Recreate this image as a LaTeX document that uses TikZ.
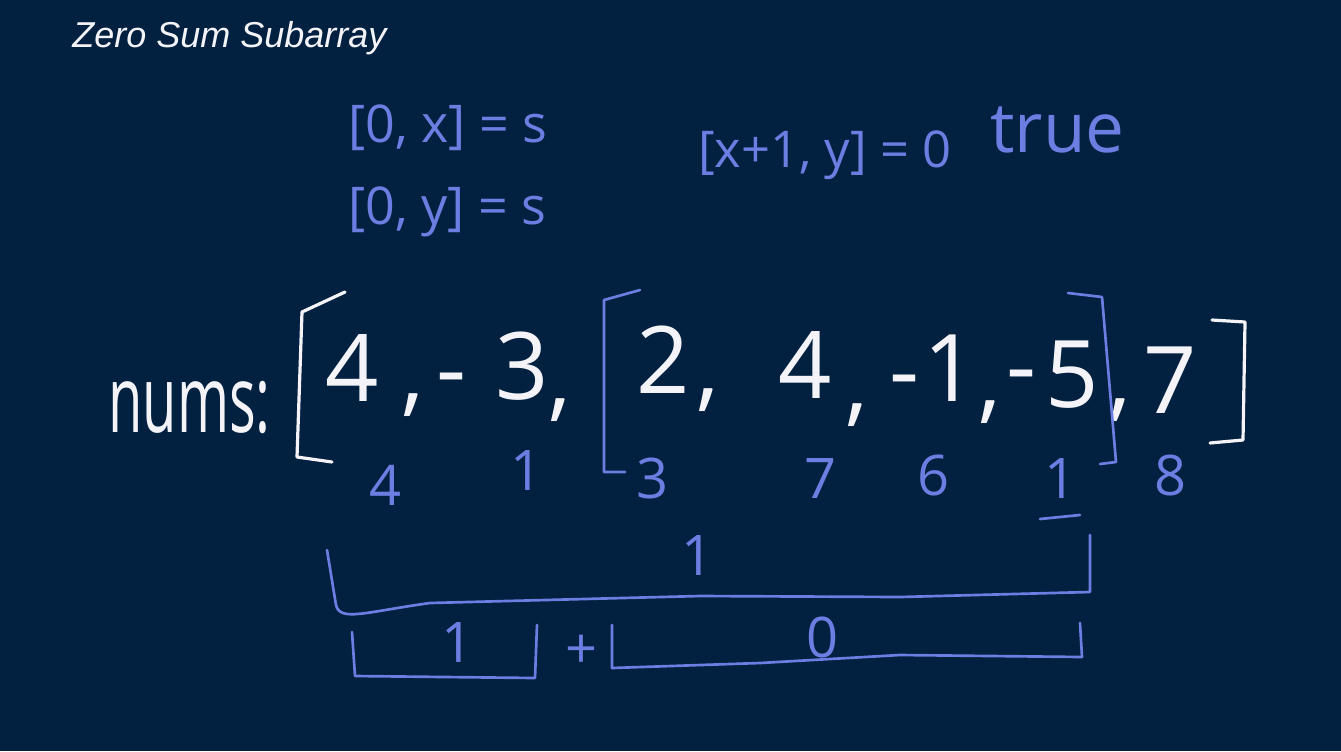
\documentclass[tikz,border=0pt]{standalone}
\usepackage{fontspec}
\setmainfont{Liberation Sans}
\newfontfamily\handfont{Open Sans}
\usetikzlibrary{calc}
\definecolor{boardbg}{RGB}{2,32,63}
\definecolor{penblue}{RGB}{108,126,226}
\definecolor{penwhite}{RGB}{244,244,248}
\tikzset{
  zs board/.style={
    x=0.75pt,
    y=-0.75pt,
    line cap=round,
    line join=round
  },
  zs title/.style={
    text=penwhite,
    font=\itshape\fontsize{27}{30}\selectfont,
    inner sep=0pt
  },
  zs note/.style={
    text=penblue,
    font=\handfont\fontsize{39}{42}\selectfont,
    inner sep=0pt
  },
  zs num/.style={
    text=penwhite,
    font=\handfont\fontsize{70}{80}\selectfont,
    inner sep=0pt
  },
  zs sum/.style={
    text=penblue,
    font=\handfont\fontsize{42}{46}\selectfont,
    inner sep=0pt
  },
  zs white stroke/.style={
    draw=penwhite,
    line width=2.4pt
  },
  zs blue stroke/.style={
    draw=penblue,
    line width=2pt
  }
}

\begin{document}
\begin{tikzpicture}[zs board]

  \useasboundingbox (0,0) rectangle (1341,751);
  \fill[boardbg] (0,0) rectangle (1341,751);

  \node[zs title,anchor=west] (title) at (72,38) {Zero Sum Subarray};

  % notes on prefix sums
  \node[zs note,anchor=west] (sx) at (348,128) {[0, x] = s};
  \node[zs note,anchor=west] (sy) at (348,212) {[0, y] = s};
  \node[zs note,anchor=west,font=\handfont\fontsize{38}{42}\selectfont] (mid) at (698,155) {[x+1, y] = 0};
  \node[zs note,anchor=west,font=\handfont\fontsize{52}{56}\selectfont] (truth) at (990,130) {true};

  % the array
  \node[zs num,anchor=base west] (label) at (108,432) {\scalebox{0.6}[1]{nums:}};
  \foreach \px/\py/\t [count=\i] in {352/368/4, 413/405/{,}, 452/387/{-}, 522/366/3,
      560/410/{,}, 663/360/2, 708/400/{,}, 805/365/4, 857/415/{,}, 905/389/{-},
      950/368/1, 990/412/{,}, 1022/384/{-}, 1072/375/5, 1120/410/{,}, 1170/380/7}
    \node[zs num] (v\i) at (\px,\py) {\t};

  \draw[zs white stroke] (345,292) -- (302,312) -- (297,457) -- (332,462);
  \draw[zs white stroke] (1212,320) -- (1245,322) -- (1243,440) -- (1210,443);
  \draw[zs blue stroke] (640,290) -- (604,300) -- (604,472) -- (625,472);
  \draw[zs blue stroke] (1068,293) -- (1102,297) -- (1116,462) -- (1100,464);

  % running sums
  \foreach \px/\py/\t [count=\i] in {386/485/4, 527/470/1, 652/478/3, 820/478/7,
      933/475/6, 1060/478/1, 1170/475/8}
    \node[zs sum] (p\i) at (\px,\py) {\t};
  \draw[zs blue stroke] (1040,519) -- (1080,515);

  % split of the range
  \draw[zs blue stroke] (327,550) -- (336,605) .. controls (340,622) and (365,612) .. (430,603)
                        -- (700,596) -- (900,597) -- (1090,592) -- (1090,535);
  \node[zs sum] (whole) at (697,555) {1};

  \draw[zs blue stroke] (352,632) -- (355,676) -- (535,678) -- (537,625);
  \node[zs sum] (left) at (458,642) {1};
  \node[zs sum] (plus) at (582,652) {+};
  \draw[zs blue stroke] (612,625) -- (612,668) -- (760,663) -- (900,655) -- (1082,657) -- (1080,623);
  \node[zs sum] (right) at (822,637) {0};

\end{tikzpicture}
\end{document}
